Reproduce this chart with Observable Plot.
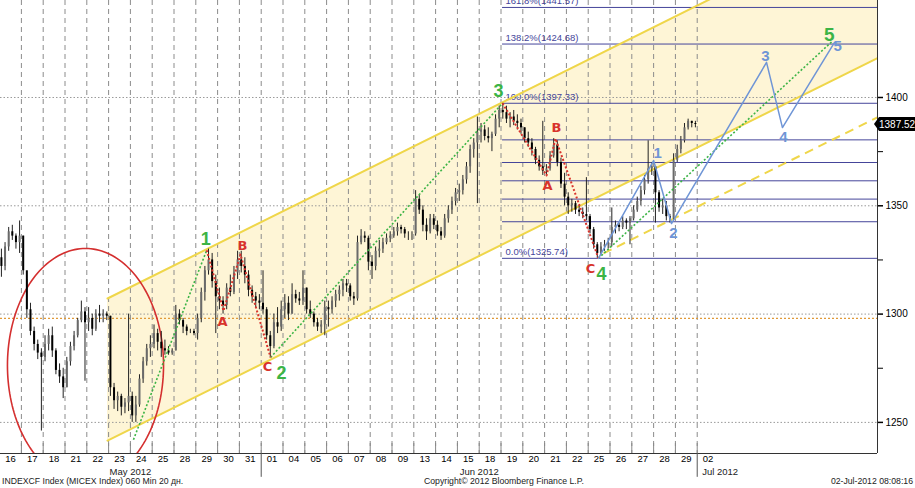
<!DOCTYPE html>
<html><head><meta charset="utf-8">
<script src="https://cdn.jsdelivr.net/npm/d3@7"></script>
<script src="https://cdn.jsdelivr.net/npm/@observablehq/plot@0.6"></script>
<style>
body{margin:0;background:#fff;font-family:"Liberation Sans",Arial,sans-serif;}
#chart svg{display:block;}
#footer{position:relative;width:915px;height:13px;font-size:8.7px;color:#222;line-height:13px;}
#footer span{position:absolute;top:0;white-space:nowrap;}
</style></head><body>
<div id="chart"></div>
<div id="footer"><span id="fl" style="left:2px">INDEXCF Index (MICEX Index) 060 Min 20 дн.</span><span id="fc" style="left:424px">Copyright© 2012 Bloomberg Finance L.P.</span><span id="fr" style="right:2px">02-Jul-2012 08:08:16</span></div>
<script>
// ---- categories: trading days (x axis) ----
const dayLabels = ["16","17","18","21","22","23","24","25","28","29","30","31",
  "01","04","05","06","07","08","09","13","14","15","18","19","20","21","22","25","26","27","28","29","02"];
const monthLabels = ["May 2012","Jun 2012","Jul 2012"];
const monthFirstDay = [0, 12, 32];
const barsPerDay = 6;
const firstOpen = 1326;
// ---- hourly-ish bars, 6 per day ----
const highs = [
 1330,1333,1340,1341,1337,1343, 1336,1316,1305,1294,1288,1284, 1290,1293,1294,1284,1277,1275,
 1280,1287,1292,1298,1306,1303, 1303,1300,1302,1304,1302,1301, 1299,1268,1264,1263,1261,1300,
 1264,1262,1272,1280,1286,1290, 1295,1293,1292,1288,1285,1284, 1304,1302,1298,1295,1293,1293,
 1300,1312,1322,1330,1328,1318, 1312,1308,1314,1318,1322,1329, 1329,1326,1320,1313,1310,1309,
 1320,1303,1292,1300,1303,1306, 1309,1308,1314,1311,1310,1320, 1312,1306,1301,1298,1297,1306,
 1306,1308,1311,1313,1316,1316, 1314,1310,1336,1339,1338,1336, 1327,1331,1334,1335,1337,1338,
 1340,1342,1341,1340,1338,1338, 1357,1355,1350,1344,1346,1346, 1343,1340,1346,1350,1354,1358,
 1360,1364,1370,1378,1381,1391, 1388,1387,1386,1384,1392,1396, 1397.33,1396,1393,1394,1392,1390,
 1386,1384,1381,1377,1373,1389, 1369,1375,1381,1380,1372,1365, 1356,1353,1352,1350,1349,1363,
 1346,1340,1333,1333,1334,1335, 1349,1343,1342,1345,1344,1345, 1350,1354,1359,1364,1380,1370,
 1368,1357,1353,1352,1346,1374, 1378,1382,1388,1390,1389,1389];
const lows = [
 1317,1320,1329,1334,1330,1328, 1318,1298,1290,1283,1279,1246, 1278,1283,1280,1272,1268,1261,
 1266,1276,1283,1289,1296,1269, 1292,1290,1292,1296,1296,1297, 1262,1256,1255,1253,1254,1255,
 1250,1250,1257,1268,1276,1280, 1284,1283,1280,1281,1281,1281, 1283,1295,1291,1290,1291,1290,
 1288,1296,1306,1318,1312,1291, 1302,1300,1302,1308,1309,1316, 1319,1314,1308,1305,1303,1302,
 1300,1288,1280,1284,1291,1292, 1298,1297,1300,1305,1304,1304, 1300,1298,1294,1292,1291,1290,
 1294,1300,1303,1306,1308,1310, 1306,1304,1306,1332,1333,1320, 1316,1320,1326,1328,1332,1333,
 1335,1336,1337,1335,1334,1334, 1336,1346,1338,1334,1337,1339, 1336,1334,1335,1342,1346,1350,
 1352,1355,1360,1365,1372,1351, 1379,1380,1379,1375,1382,1386, 1390,1388,1386,1387,1385,1383,
 1379,1377,1373,1369,1366,1364, 1364,1366,1372,1368,1358,1350, 1346,1347,1346,1345,1344,1343,
 1337,1330,1325.74,1327,1329,1330, 1331,1337,1338,1339,1339,1332, 1343,1347,1350,1355,1360,1364,
 1342,1347,1346,1343,1342,1343, 1370,1374,1379,1385,1386,1386];
const closes = [
 1322,1331,1338,1336,1333,1336, 1320,1302,1292,1286,1282,1280, 1286,1290,1283,1274,1271,1266,
 1278,1285,1290,1297,1301,1296, 1298,1293,1300,1299,1300,1299, 1266,1260,1262,1257,1259,1262,
 1253,1258,1270,1278,1284,1286, 1291,1287,1284,1283,1282,1283, 1300,1297,1294,1292,1292,1291,
 1298,1310,1320,1325,1315,1308, 1306,1304,1312,1310,1319,1325, 1322,1318,1311,1308,1306,1305,
 1302,1290,1285,1296,1294,1302, 1305,1300,1309,1307,1306,1312, 1302,1300,1296,1294,1295,1303,
 1302,1306,1309,1311,1314,1313, 1308,1307,1333,1336,1335,1324, 1322,1329,1330,1333,1335,1336,
 1338,1340,1339,1337,1337,1337, 1353,1348,1341,1338,1344,1341, 1338,1336,1344,1348,1352,1356,
 1357,1362,1368,1376,1379,1384, 1385,1382,1381,1383,1390,1394, 1393,1390,1391,1389,1388,1386,
 1381,1379,1376,1371,1368,1366, 1367,1373,1378,1370,1360,1354, 1350,1351,1348,1347,1346,1345,
 1339,1332,1328,1331,1332,1333, 1340,1341,1340,1343,1342,1344, 1348,1352,1357,1362,1367,1368,
 1356,1349,1350,1345,1344,1371, 1376,1380,1386,1389,1388,1387.52];
const lastPrice = 1387.52;
// ---- y axis ----
const yMajorTicks = [1250, 1300, 1350, 1400];
const yMinorTicks = [1275, 1325, 1375];
const refLine = 1298; // orange dotted reference
// ---- Fibonacci ----
const fibLow = 1325.74, fibHigh = 1397.33, fibStartDay = 22.57;
const fibRatios = [0, 0.236, 0.382, 0.5, 0.618, 0.764, 1, 1.382, 1.618];
const fibLabelRatios = [0, 1, 1.382, 1.618];
const fibLabelText = ["0.0%(1325.74)", "100.0%(1397.33)", "138.2%(1424.68)", "161.8%(1441.57)"];
// ---- trend channel (value per day slope) ----
const channelStartDay = 4.45, channelLower = 1241.6, channelUpper = 1307.2, channelSlope = 5;
const dashedStartDay = 27.2, dashedStart = 1328;
// ---- circle annotation ----
const ellipseDay = 3.44, ellipseValue = 1276.3, ellipseRDays = 3.58, ellipseRValue = 54;
// ---- Elliott waves ----
const trendStart = [5.64, 1242];
const waveDays = [9.0, 11.93, 22.57, 26.97, 37.7];
const waveValues = [1329.5, 1280, 1397.33, 1325.74, 1426];
const waveNames = ["1","2","3","4","5"];
const corr1Days = [9.0, 9.77, 10.55, 11.93], corr1Values = [1329.5, 1301.5, 1327.5, 1280];
const corr2Days = [22.57, 24.59, 25.0, 26.97], corr2Values = [1397.33, 1364, 1381, 1325.74];
const corrNames = ["", "A", "B", "C"];
const projDays = [26.97, 29.5, 30.32, 34.68, 35.41, 37.8];
const projValues = [1325.74, 1370.9, 1341.8, 1416.2, 1386.1, 1425.4];
const projNames = ["", "1", "2", "3", "4", "5"];

// ---------------- build ----------------
const xDomain = [-0.4587, 39.77];
const yDomain = [1235.64, 1444.78];
const bars = closes.map((c, j) => {
  const day = Math.floor(j / barsPerDay), k = j % barsPerDay;
  return {x: day - 0.5 + (k + 0.5) / barsPerDay, o: j ? closes[j - 1] : firstOpen, h: highs[j], l: lows[j], c};
});
const boundaries = dayLabels.slice(1).map((_, i) => i + 0.5);
const channel = [channelStartDay, xDomain[1]].map(x => ({x,
  lo: channelLower + channelSlope * (x - channelStartDay),
  hi: channelUpper + channelSlope * (x - channelStartDay)}));
const dashed = [dashedStartDay, xDomain[1]].map(x => ({x, y: dashedStart + channelSlope * (x - dashedStartDay)}));
const ellipse = d3.range(0, 361, 2).map(a => ({x: ellipseDay + ellipseRDays * Math.cos(a * Math.PI / 180),
  y: ellipseValue + ellipseRValue * Math.sin(a * Math.PI / 180)}));
const fibVal = r => fibLow + r * (fibHigh - fibLow);
const pts = (xs, ys) => xs.map((x, i) => ({x, y: ys[i], i}));
const greenSegs = [
  [{x: trendStart[0], y: trendStart[1], s: 0}, {x: waveDays[0], y: waveValues[0], s: 0}],
  [{x: waveDays[1], y: waveValues[1], s: 1}, {x: waveDays[2], y: waveValues[2], s: 1}],
  [{x: waveDays[3], y: waveValues[3], s: 2}, {x: waveDays[4], y: waveValues[4], s: 2}]].flat();

const YEL = "#efd64a", GREEN = "#3cb446", RED = "#d8332c", BLUE = "#6f95d6", FIB = "#45459a";
const greenOff = [[-1,-11],[11,16],[-4,-12],[3,16],[-3,-6]];
const corr1Off = [null,[-1,11],[2,-9],[-3,9]];
const corr2Off = [null,[1,10],[1,-11],[-8,10]];
const projOff = [null,[4,-7],[2,10],[-1,-6],[1,10],[3,4]];

const labelMarks = [];
waveNames.forEach((t, j) => labelMarks.push(Plot.text([j], {x: i => waveDays[i], y: i => waveValues[i], text: () => t,
  dx: greenOff[j][0], dy: greenOff[j][1], fill: GREEN, fontSize: j === 4 ? 19 : 18, fontWeight: "bold", fontFamily: "Liberation Sans"})));
[[corr1Days, corr1Values, corr1Off], [corr2Days, corr2Values, corr2Off]].forEach(([xs, ys, off]) =>
  corrNames.forEach((t, j) => { if (t) labelMarks.push(Plot.text([j], {x: i => xs[i], y: i => ys[i], text: () => t,
    dx: off[j][0], dy: off[j][1], fill: RED, fontSize: 13, fontWeight: "bold", fontFamily: "DejaVu Sans"})); }));
projNames.forEach((t, j) => { if (t) labelMarks.push(Plot.text([j], {x: i => projDays[i], y: i => projValues[i], text: () => t,
  dx: projOff[j][0], dy: projOff[j][1], fill: BLUE, fontSize: 15, fontWeight: "bold", fontFamily: "Liberation Sans"})); });

const priceTag = (index, scales) => {
  const y = scales.y(lastPrice), x0 = scales.x(xDomain[1]);
  const g = d3.create("svg:g");
  g.append("path").attr("d", `M${x0 - 3},${y} L${x0 + 2},${y - 7} L915,${y - 7} L915,${y + 7} L${x0 + 2},${y + 7} Z`).attr("fill", "#000");
  g.append("text").attr("x", x0 + 2).attr("y", y).attr("dy", "0.35em").attr("fill", "#fff").attr("text-anchor", "start")
    .attr("font-size", 10).attr("font-family", "Liberation Sans").text(lastPrice.toFixed(2));
  return g.node();
};

const dotted = {strokeLinecap: "butt", strokeDasharray: "2,2"};
const chart = Plot.plot({
  width: 915, height: 475,
  marginLeft: 0, marginRight: 38, marginTop: 0, marginBottom: 22,
  x: {type: "linear", domain: xDomain},
  y: {type: "linear", domain: yDomain},
  style: {fontFamily: "Liberation Sans", fontSize: "10px", background: "#fff", overflow: "visible"},
  marks: [
    Plot.areaY(channel, {x: "x", y1: "lo", y2: "hi", fill: "#fef5d6", clip: true}),
    Plot.ruleX(boundaries, {stroke: "#8c8c8c", strokeDasharray: "5,4", strokeWidth: 1}),
    Plot.ruleY(yMajorTicks, {stroke: "#9a9a9a", strokeDasharray: "1.5,2", strokeWidth: 1}),
    Plot.ruleY([refLine], {stroke: "#e09a3a", strokeDasharray: "2,2", strokeWidth: 1.2}),
    Plot.ruleY(fibRatios, {y: fibVal, x1: fibStartDay, x2: xDomain[1], stroke: FIB, strokeWidth: 1}),
    Plot.text(fibLabelRatios, {x: fibStartDay, y: fibVal, text: (d, i) => fibLabelText[i], dx: 3, dy: -6,
      textAnchor: "start", fill: FIB, fontSize: 9.5}),
    Plot.line(channel, {x: "x", y: "hi", stroke: YEL, strokeWidth: 2, clip: true}),
    Plot.line(channel, {x: "x", y: "lo", stroke: YEL, strokeWidth: 2, clip: true}),
    Plot.line(dashed, {x: "x", y: "y", stroke: YEL, strokeWidth: 2, strokeDasharray: "9,6", strokeLinecap: "butt", clip: true}),
    Plot.line(ellipse, {x: "x", y: "y", stroke: "#d42f2f", strokeWidth: 1.6, clip: true}),
    Plot.ruleX(bars, {x: "x", y1: "l", y2: "h", stroke: "#222", strokeWidth: 1}),
    Plot.ruleX(bars, {x: "x", y1: "o", y2: "c", stroke: d => d.c >= d.o ? "#6a6a6a" : "#000", strokeWidth: 2}),
    Plot.line(greenSegs, {x: "x", y: "y", z: "s", stroke: GREEN, strokeWidth: 1.6, ...dotted}),
    Plot.line(pts(corr1Days, corr1Values), {x: "x", y: "y", stroke: RED, strokeWidth: 2, ...dotted}),
    Plot.line(pts(corr2Days, corr2Values), {x: "x", y: "y", stroke: RED, strokeWidth: 2, ...dotted}),
    Plot.line(pts(projDays, projValues), {x: "x", y: "y", stroke: BLUE, strokeWidth: 1.5}),
    ...labelMarks,
    // frame (bottom + right)
    Plot.ruleY([yDomain[0]], {stroke: "#333", strokeWidth: 1}),
    Plot.ruleX([xDomain[1]], {stroke: "#333", strokeWidth: 1}),
    Plot.ruleX(boundaries, {y1: yDomain[0], y2: yDomain[0] + 4.6, stroke: "#888"}),
    Plot.ruleX(monthFirstDay.slice(1).map(d => d - 0.5), {y1: yDomain[0], y2: yDomain[0] - 11, stroke: "#555"}),
    Plot.axisY(yMajorTicks, {anchor: "right", tickSize: 5, tickPadding: 3, fontSize: 10, strokeWidth: 1.5, tickFormat: d => String(d), label: null}),
    Plot.axisY(yMinorTicks, {anchor: "right", tickSize: 5, tickFormat: () => "", label: null}),
    Plot.axisX(dayLabels.map((_, i) => i), {anchor: "bottom", tickSize: 0, tickPadding: 2, tickFormat: i => dayLabels[i], fontSize: 9.5, label: null}),
    Plot.text(monthLabels.slice(0, 2), {x: (d, i) => (monthFirstDay[i] + monthFirstDay[i + 1] - 1) / 2, y: yDomain[0], dy: 18, fontSize: 9.5, fill: "#222"}),
    Plot.text(monthLabels.slice(2), {x: monthFirstDay[2] - 0.5, y: yDomain[0], dy: 18, dx: 5, textAnchor: "start", fontSize: 9.5, fill: "#222"}),
    priceTag
  ]
});
document.getElementById("chart").appendChild(chart);
</script>
</body></html>
